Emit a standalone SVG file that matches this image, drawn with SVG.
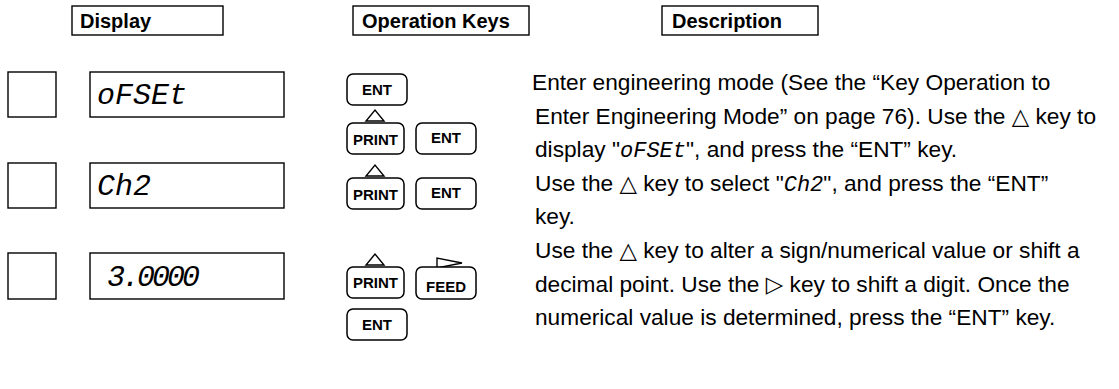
<svg xmlns="http://www.w3.org/2000/svg" width="1119" height="389" viewBox="0 0 1119 389">
<style>
.box{fill:#fff;stroke:#000;stroke-width:1.4}
.key{fill:#fff;stroke:#000;stroke-width:1.5}
.tri{fill:#fff;stroke:#000;stroke-width:1.4}
.hdr{font-family:"Liberation Sans",Arial,sans-serif;font-weight:bold;font-size:20px;fill:#000}
.kt{font-family:"Liberation Sans",Arial,sans-serif;font-weight:bold;font-size:15px;fill:#000;text-anchor:middle}
.seg{font-family:"Liberation Mono","DejaVu Sans Mono",monospace;font-style:italic;font-size:30px;fill:#000}
.desc{font-family:"Liberation Sans",Arial,sans-serif;font-size:22.7px;fill:#000}
.sym{font-family:"DejaVu Sans",sans-serif}
.iseg{font-family:"Liberation Mono","DejaVu Sans Mono",monospace;font-style:italic;font-size:22px}
</style>
<rect width="1119" height="389" fill="#fff"/>
<g id="hdr-display"><rect class="box" x="72" y="6" width="151" height="29"/><text class="hdr" x="80" y="28">Display</text></g>
<g id="hdr-keys"><rect class="box" x="353" y="6" width="176" height="29"/><text class="hdr" x="362" y="28">Operation Keys</text></g>
<g id="hdr-desc"><rect class="box" x="662" y="6" width="156" height="29"/><text class="hdr" x="672" y="28">Description</text></g>

<g id="row1-display">
<rect class="box" x="8" y="72" width="48" height="45"/>
<rect class="box" x="90" y="72" width="194" height="45"/>
<text class="seg" x="97" y="104">oFSEt</text>
</g>
<g id="row2-display">
<rect class="box" x="8" y="163" width="48" height="45"/>
<rect class="box" x="90" y="163" width="194" height="45"/>
<text class="seg" x="97" y="195">Ch2</text>
</g>
<g id="row3-display">
<rect class="box" x="8" y="253" width="48" height="46"/>
<rect class="box" x="90" y="253" width="194" height="46"/>
<text class="seg" x="107" y="286" letter-spacing="-3">3.0000</text>
</g>

<g id="row1-keys">
<rect class="key" x="347" y="74" width="60" height="31" rx="6"/><text class="kt" x="377" y="95">ENT</text>
<polygon class="tri" points="366,121 384,121 375,110"/>
<rect class="key" x="347" y="123" width="57" height="31" rx="6"/><text class="kt" x="375.5" y="145">PRINT</text>
<rect class="key" x="416" y="123" width="60" height="31" rx="6"/><text class="kt" x="446" y="143">ENT</text>
</g>
<g id="row2-keys">
<polygon class="tri" points="366,176 384,176 375,165"/>
<rect class="key" x="347" y="178" width="57" height="31" rx="6"/><text class="kt" x="375.5" y="200">PRINT</text>
<rect class="key" x="416" y="178" width="60" height="31" rx="6"/><text class="kt" x="446" y="198">ENT</text>
</g>
<g id="row3-keys">
<polygon class="tri" points="366,265 384,265 375,254"/>
<rect class="key" x="347" y="267" width="57" height="31" rx="6"/><text class="kt" x="375.5" y="288">PRINT</text>
<polygon class="tri" points="437,258 437,268 462,263"/>
<rect class="key" x="416" y="267" width="60" height="32" rx="6"/><text class="kt" x="446" y="292">FEED</text>
<rect class="key" x="347" y="309" width="60" height="31" rx="6"/><text class="kt" x="377" y="330">ENT</text>
</g>

<g id="description">
<text class="desc" x="532" y="90">Enter engineering mode (See the “Key Operation to</text>
<text class="desc" x="535" y="124">Enter Engineering Mode” on page 76). Use the <tspan class="sym">△</tspan> key to</text>
<text class="desc" x="535" y="157">display "<tspan class="iseg">oFSEt</tspan>", and press the “ENT” key.</text>
<text class="desc" x="535" y="191">Use the <tspan class="sym">△</tspan> key to select "<tspan class="iseg">Ch2</tspan>", and press the “ENT”</text>
<text class="desc" x="535" y="224">key.</text>
<text class="desc" x="535" y="258">Use the <tspan class="sym">△</tspan> key to alter a sign/numerical value or shift a</text>
<text class="desc" x="535" y="292">decimal point. Use the <tspan class="sym">▷</tspan> key to shift a digit. Once the</text>
<text class="desc" x="535" y="325">numerical value is determined, press the “ENT” key.</text>
</g>
</svg>
